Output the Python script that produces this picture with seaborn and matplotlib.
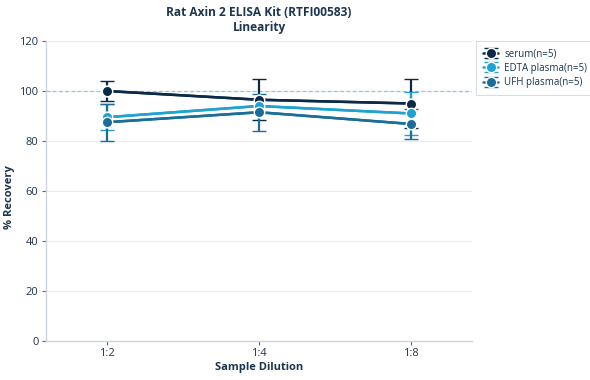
import pandas as pd
import numpy as np
import matplotlib
matplotlib.use("Agg")
import matplotlib.pyplot as plt
import seaborn as sns

dilutions = ["1:2", "1:4", "1:8"]
series = ["serum(n=5)", "EDTA plasma(n=5)", "UFH plasma(n=5)"]
serum = [100.0, 96.5, 95.0]
serum_err = [4.0, 8.3, 10.0]
edta = [89.5, 94.0, 91.0]
edta_err = [5.3, 3.0, 8.7]
ufh = [87.5, 91.5, 86.8]
ufh_err = [7.5, 7.5, 6.0]
colors = ["#0b2a48", "#1fa2d2", "#1a6e99"]

sns.set_theme(style="white")
plt.rcParams["font.family"] = ["Open Sans", "DejaVu Sans"]

rows = []
for name, vals in zip(series, [serum, edta, ufh]):
    for d, v in zip(dilutions, vals):
        rows.append({"Dilution": d, "Recovery": v, "Sample": name})
df = pd.DataFrame(rows)

fig = plt.figure(figsize=(5.9, 3.8), dpi=100)
ax = fig.add_axes([0.078, 0.103, 0.722, 0.789])

ax.axhline(100, color="#8ccbe6", lw=0.9, ls=(0, (3, 2)), zorder=1)

sns.lineplot(data=df, x="Dilution", y="Recovery", hue="Sample", palette=colors,
             marker="o", markersize=7.5, markeredgecolor="white", markeredgewidth=1,
             linewidth=1.8, errorbar=None, legend=False, ax=ax, zorder=3)

handles = []
xs = np.arange(len(dilutions))
for name, vals, errs, c in zip(series, [serum, edta, ufh], [serum_err, edta_err, ufh_err], colors):
    h = ax.errorbar(xs, vals, yerr=errs, fmt="-o", color=c, lw=1.8, ms=7.5, mec="white", mew=1,
                    ecolor=c, elinewidth=1.6, capsize=5, capthick=1.6, zorder=2, label=name)
    handles.append(h)

ax.set_xlim(-0.4, 2.4)
ax.set_ylim(0, 120)
ax.set_yticks([0, 20, 40, 60, 80, 100, 120])
ax.yaxis.grid(True, color="#e8ecf0", lw=0.8)
ax.set_axisbelow(True)

for s in ["top", "right"]:
    ax.spines[s].set_visible(False)
for s in ["left", "bottom"]:
    ax.spines[s].set_color("#cdd5dd")
    ax.spines[s].set_linewidth(1)
ax.tick_params(axis="both", which="both", length=3, width=0.8, color="#5b6b7b",
               labelsize=8, labelcolor="#1c3550", left=True, bottom=True, pad=2.5)

ax.set_xlabel("Sample Dilution", fontsize=8, fontweight="bold", color="#1c3550", labelpad=2)
ax.set_ylabel("% Recovery", fontsize=8, fontweight="bold", color="#1c3550")
ax.yaxis.set_label_coords(-0.073, 0.48)
ax.set_title("Rat Axin 2 ELISA Kit (RTFI00583)\nLinearity", fontsize=8.6, fontweight="bold",
             color="#1c3550", linespacing=1.2, pad=7)

leg = ax.legend(handles=handles, labels=series, loc="upper left", bbox_to_anchor=(1.005, 1.005),
                fontsize=7, frameon=True, handlelength=1.6, handletextpad=0.6,
                borderpad=0.4, labelspacing=0.35)
leg.get_frame().set_edgecolor("#cdd5dd")
leg.get_frame().set_linewidth(0.8)
leg.get_frame().set_boxstyle("square")
for t in leg.get_texts():
    t.set_color("#1c3550")

fig.savefig("out.png", dpi=100)
